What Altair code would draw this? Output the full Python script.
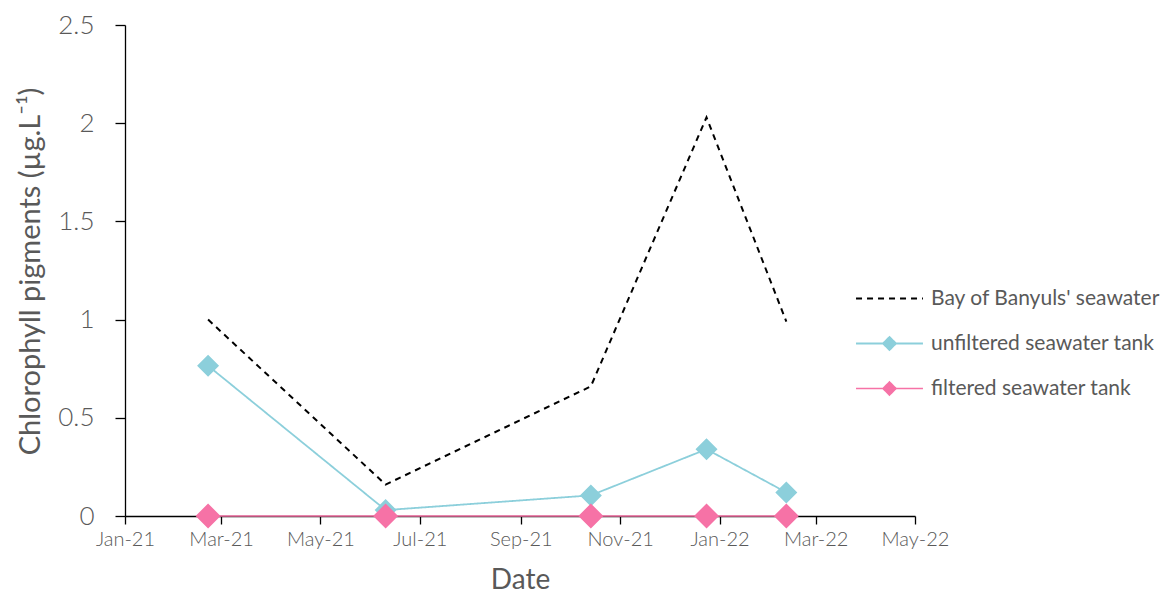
import altair as alt
import pandas as pd

# ---- data ----
sample_dates = ["2021-02-21", "2021-06-10", "2021-10-14", "2021-12-24", "2022-02-11"]
bay_values = [1.00, 0.16, 0.66, 2.03, 0.99]
unfiltered_values = [0.765, 0.03, 0.105, 0.34, 0.12]
filtered_values = [0.0, 0.0, 0.0, 0.0, 0.0]

series_names = ["Bay of Banyuls' seawater", "unfiltered seawater tank", "filtered seawater tank"]
series_colors = ["#000000", "#8ccfdb", "#f672a6"]
tick_dates = ["2021-01-01", "2021-03-01", "2021-05-01", "2021-07-01", "2021-09-01",
              "2021-11-01", "2022-01-01", "2022-03-01", "2022-05-01"]
y_ticks = [0, 0.5, 1, 1.5, 2, 2.5]

S_BAY, S_UNF, S_FIL = series_names

rows = []
for name, vals in zip(series_names, [bay_values, unfiltered_values, filtered_values]):
    for d, v in zip(sample_dates, vals):
        rows.append({"date": d, "value": v, "series": name})
df = pd.DataFrame(rows)


def dt(s):
    y, m, d = map(int, s.split("-"))
    return alt.DateTime(year=y, month=m, date=d, utc=True)


FONT = "Lato"
GREY = "#595959"

x_enc = alt.X(
    "date:T",
    scale=alt.Scale(type="utc", domain=[dt(tick_dates[0]), dt(tick_dates[-1])]),
    axis=alt.Axis(
        values=[dt(s) for s in tick_dates], labelExpr="utcFormat(datum.value, '%b-%y')",
        labelOverlap=False, labelFlush=False,
        title="Date", labelFontSize=20, titleFontSize=28, labelPadding=5,
        tickSize=8, titleY=64, titleBaseline="middle",
    ),
)
y_enc = alt.Y(
    "value:Q",
    scale=alt.Scale(domain=[0, 2.5], nice=False),
    axis=alt.Axis(
        values=y_ticks, format=".1~f", title="Chlorophyll pigments (µg.L⁻¹)",
        labelFontSize=26, titleFontSize=29, tickSize=10, labelPadding=21,
        titleX=-95, titleY=246, titleBaseline="middle",
    ),
)

# legend symbol shapes: a plain line, or a line with a diamond on it
line_only = "M-5.15,0H5.15"
line_diamond = "M-5.15,0H5.15M0,-1L1,0L0,1L-1,0Z"

color_scale = alt.Scale(domain=series_names, range=series_colors)
dash_scale = alt.Scale(domain=series_names, range=[[6, 5], [1, 0], [1, 0]])
shape_scale = alt.Scale(domain=series_names, range=[line_only, line_diamond, line_diamond])

leg = alt.Legend(
    title=None, orient="none", legendX=754, legendY=263,
    symbolSize=169, symbolStrokeWidth=1.8, labelOffset=31, rowPadding=23,
    labelFontSize=21, labelFont=FONT, labelColor=GREY, padding=0, labelLimit=400,
)

base = alt.Chart(df)

lines = base.mark_line().encode(
    x=x_enc, y=y_enc,
    color=alt.Color("series:N", scale=color_scale, legend=leg, sort=series_names),
    strokeDash=alt.StrokeDash("series:N", scale=dash_scale, legend=leg, sort=series_names),
    strokeWidth=alt.StrokeWidth("series:N", scale=alt.Scale(domain=series_names, range=[2, 1.6, 2.4]), legend=None),
)


def points(series, size):
    return base.transform_filter(alt.datum.series == series).mark_point(
        filled=True, size=size, opacity=1, strokeWidth=0
    ).encode(
        x=x_enc, y=y_enc,
        color=alt.Color("series:N", scale=color_scale, legend=leg, sort=series_names),
        shape=alt.Shape("series:N", scale=shape_scale, legend=leg, sort=series_names),
    )


chart = alt.layer(lines, points(S_UNF, 484), points(S_FIL, 625)).properties(
    width=790, height=491,
    autosize=alt.AutoSizeParams(type="none"),
    padding={"left": 117, "top": 17, "right": 248, "bottom": 81},
).configure_view(stroke=None).configure_axis(
    grid=False, domainColor="#000000", domainWidth=1.3, tickColor="#000000", tickWidth=1.3,
    labelColor=GREY, titleColor=GREY, labelFont=FONT, titleFont=FONT,
    labelFontWeight=300, titleFontWeight="normal",
).configure_legend(labelFont=FONT)

chart.save("out.html", embed_options={"renderer": "svg", "actions": False})
